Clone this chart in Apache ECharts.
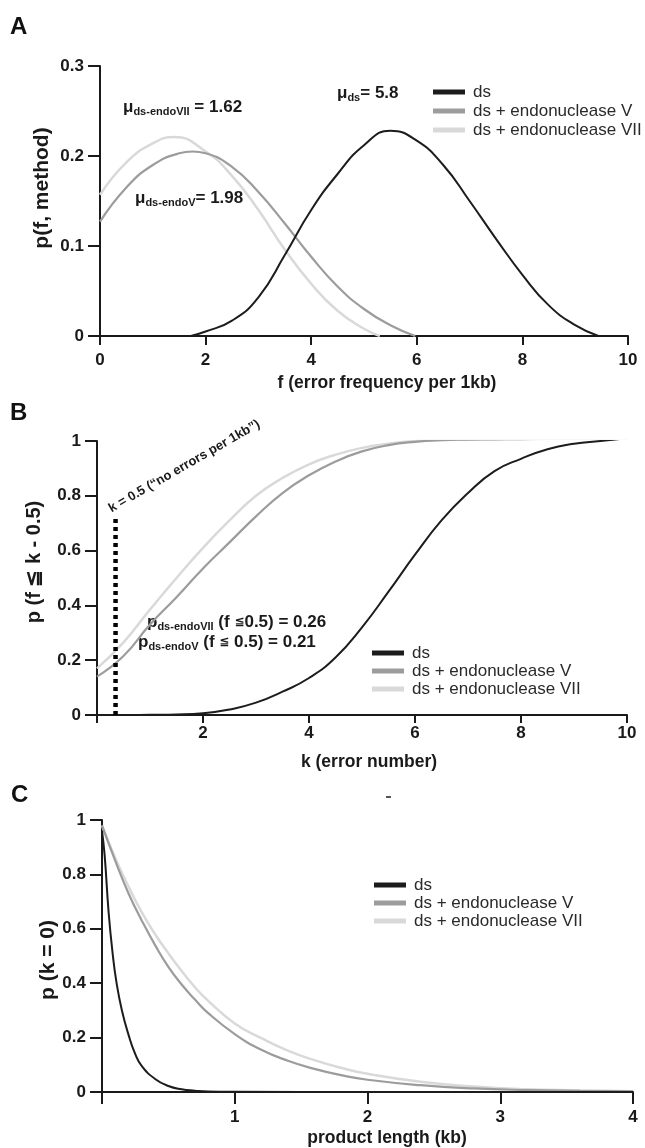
<!DOCTYPE html>
<html>
<head>
<meta charset="utf-8">
<script src="https://cdn.jsdelivr.net/npm/echarts@6/dist/echarts.min.js"></script>
<style>
  html, body { margin: 0; padding: 0; background: #fff; }
  #chart { width: 645px; height: 1148px; }
</style>
</head>
<body>
<div id="chart"></div>
<script>
// panel A: p(f, method) vs error frequency
var fA_ds = [1.72, 2.0, 2.5, 3.0, 3.5, 4.0, 4.5, 5.0, 5.5, 6.0, 6.5, 7.0, 7.5, 8.0, 8.5, 9.0, 9.44]
var pA_ds = [0, 0.005, 0.017, 0.043, 0.09, 0.14, 0.18, 0.212, 0.228, 0.217, 0.19, 0.15, 0.108, 0.068, 0.034, 0.012, 0]
var fA_endoV = [0, 0.5, 1.0, 1.5, 1.75, 2.0, 2.5, 3.0, 3.5, 4.0, 4.5, 5.0, 5.5, 5.97]
var pA_endoV = [0.127, 0.165, 0.19, 0.203, 0.205, 0.203, 0.188, 0.16, 0.125, 0.088, 0.055, 0.03, 0.012, 0]
var fA_endoVII = [0, 0.5, 1.0, 1.4, 2.0, 2.5, 3.0, 3.5, 4.0, 4.5, 5.0, 5.3]
var pA_endoVII = [0.157, 0.193, 0.214, 0.221, 0.205, 0.178, 0.14, 0.096, 0.058, 0.028, 0.008, 0]

// panel B: cumulative p(f <= k - 0.5)
var kB = [0, 0.5, 1, 1.5, 2, 2.5, 3, 3.5, 4, 4.5, 5, 5.5, 6, 6.5, 7, 7.5, 8, 8.5, 9, 9.5, 10]
var pB_ds = [0, 0, 0.001, 0.002, 0.006, 0.02, 0.045, 0.085, 0.135, 0.21, 0.32, 0.45, 0.585, 0.71, 0.81, 0.89, 0.935, 0.97, 0.99, 1.0, 1.01]
var pB_endoV = [0.14, 0.215, 0.33, 0.43, 0.535, 0.63, 0.725, 0.81, 0.875, 0.925, 0.962, 0.985, 0.997, 1.003, 1.005, 1.006, 1.007, 1.008, 1.008, 1.009, 1.01]
var pB_endoVII = [0.17, 0.265, 0.385, 0.5, 0.61, 0.71, 0.8, 0.865, 0.915, 0.95, 0.975, 0.99, 1.0, 1.004, 1.006, 1.007, 1.007, 1.008, 1.008, 1.009, 1.01]
var noErrK = [0.35, 0.35]
var noErrP = [0, 0.72]

// panel C: p(k = 0) vs product length
var lenC_ds = [0, 0.02, 0.05, 0.08, 0.11, 0.15, 0.2, 0.25, 0.3, 0.4, 0.5, 0.6, 0.7, 0.8, 1.0, 2.0, 3.0, 4.0]
var pC_ds = [0.96, 0.87, 0.66, 0.51, 0.4, 0.3, 0.21, 0.14, 0.095, 0.048, 0.022, 0.01, 0.005, 0.002, 0.001, 0, 0, 0]
var lenC = [0, 0.1, 0.2, 0.3, 0.4, 0.5, 0.6, 0.7, 0.8, 1.0, 1.2, 1.4, 1.6, 1.8, 2.0, 2.4, 2.8, 3.2, 3.6, 4.0]
var pC_endoV = [0.98, 0.85, 0.73, 0.63, 0.54, 0.46, 0.395, 0.34, 0.29, 0.213, 0.155, 0.115, 0.085, 0.062, 0.045, 0.025, 0.013, 0.007, 0.004, 0.002]
var pC_endoVII = [0.98, 0.86, 0.755, 0.66, 0.58, 0.51, 0.445, 0.385, 0.335, 0.252, 0.198, 0.152, 0.117, 0.089, 0.067, 0.038, 0.02, 0.01, 0.006, 0.003]

var names = ['ds', 'ds + endonuclease V', 'ds + endonuclease VII']
var colors = ['#1c1c1c', '#9c9c9c', '#d9d9d9']

var FONT = '"Liberation Sans", Arial, Helvetica, sans-serif'

function zip(xs, ys) {
  return xs.map(function(x, i) { return [x, ys[i]] })
}

function curve(name, idx, xs, ys, color, width) {
  return {
    name: name,
    type: 'line',
    xAxisIndex: idx,
    yAxisIndex: idx,
    data: zip(xs, ys),
    smooth: 0.5,
    showSymbol: false,
    itemStyle: { color: color },
    lineStyle: { color: color, width: width },
    z: 3
  }
}

function xAx(idx, max, interval, margin, tickLen, hideZero) {
  return {
    type: 'value',
    gridIndex: idx,
    min: 0,
    max: max,
    interval: interval,
    splitLine: { show: false },
    axisLine: { lineStyle: { color: '#1a1a1a', width: 2 } },
    axisTick: { length: tickLen, lineStyle: { color: '#1a1a1a', width: 2 } },
    axisLabel: {
      margin: margin,
      color: '#1a1a1a',
      fontSize: 17,
      fontWeight: 'bold',
      fontFamily: FONT,
      formatter: function(v) { return (hideZero && v === 0) ? '' : String(v) }
    }
  }
}

function yAx(idx, max, interval) {
  return {
    type: 'value',
    gridIndex: idx,
    min: 0,
    max: max,
    interval: interval,
    splitLine: { show: false },
    axisLine: { show: true, lineStyle: { color: '#1a1a1a', width: 2 } },
    axisTick: { show: true, length: 12, lineStyle: { color: '#1a1a1a', width: 2 } },
    axisLabel: {
      margin: 16,
      color: '#1a1a1a',
      fontSize: 17,
      fontWeight: 'bold',
      fontFamily: FONT
    }
  }
}

function legendAt(left, top, gap) {
  return {
    orient: 'vertical',
    left: left,
    top: top,
    data: names,
    icon: 'rect',
    itemWidth: 32,
    itemHeight: 5,
    itemGap: gap,
    selectedMode: false,
    textStyle: {
      color: '#2a2a2a',
      fontSize: 17,
      fontFamily: FONT,
      lineHeight: 18,
      padding: [0, 0, 0, 3]
    }
  }
}

function label(text, x, y, size, rot) {
  return {
    type: 'text',
    x: x,
    y: y,
    rotation: rot || 0,
    style: {
      text: text,
      fill: '#1a1a1a',
      font: 'bold ' + size + 'px ' + FONT,
      align: 'center',
      verticalAlign: 'middle'
    }
  }
}

var richStyles = {
  m: { fontSize: 17, fontWeight: 'bold', fontFamily: FONT, fill: '#1a1a1a', lineHeight: 20, verticalAlign: 'middle' },
  s: { fontSize: 11, fontWeight: 'bold', fontFamily: FONT, fill: '#1a1a1a', lineHeight: 12, verticalAlign: 'bottom' },
  le: { fontSize: 12, fontWeight: 'bold', fontFamily: '"DejaVu Sans"', fill: '#1a1a1a', lineHeight: 20, verticalAlign: 'middle' }
}

function richText(text, x, y) {
  return {
    type: 'text',
    x: x,
    y: y,
    style: { text: text, align: 'left', verticalAlign: 'middle', rich: richStyles }
  }
}

var chart = echarts.init(document.getElementById('chart'))

chart.setOption({
  animation: false,
  backgroundColor: '#fff',
  textStyle: { fontFamily: FONT },
  grid: [
    { left: 100, top: 66, width: 528, height: 270, outerBoundsMode: 'none' },
    { left: 97, top: 441, width: 530, height: 274, outerBoundsMode: 'none' },
    { left: 102, top: 820, width: 531, height: 272, outerBoundsMode: 'none' }
  ],
  xAxis: [
    xAx(0, 10, 2, 16, 9, false),
    xAx(1, 10, 2, 10, 8, true),
    xAx(2, 4, 1, 17, 12, true)
  ],
  yAxis: [
    yAx(0, 0.3, 0.1),
    yAx(1, 1, 0.2),
    yAx(2, 1, 0.2)
  ],
  legend: [
    legendAt(428, 78, 1),
    legendAt(367, 639, 0),
    legendAt(369, 871, 0)
  ],
  series: [
    curve(names[2], 0, fA_endoVII, pA_endoVII, colors[2], 2.5),
    curve(names[1], 0, fA_endoV, pA_endoV, colors[1], 2.2),
    curve(names[0], 0, fA_ds, pA_ds, colors[0], 2),
    curve(names[2], 1, kB, pB_endoVII, colors[2], 2.5),
    curve(names[1], 1, kB, pB_endoV, colors[1], 2.2),
    curve(names[0], 1, kB, pB_ds, colors[0], 2),
    {
      type: 'line',
      xAxisIndex: 1,
      yAxisIndex: 1,
      data: zip(noErrK, noErrP),
      showSymbol: false,
      lineStyle: { color: '#000', width: 4.5, type: [4, 4], cap: 'butt' },
      z: 4
    },
    curve(names[2], 2, lenC, pC_endoVII, colors[2], 2.5),
    curve(names[1], 2, lenC, pC_endoV, colors[1], 2.2),
    curve(names[0], 2, lenC_ds, pC_ds, colors[0], 2)
  ],
  graphic: [
    // panel letters
    { type: 'text', x: 10, y: 27, style: { text: 'A', font: 'bold 24px ' + FONT, fill: '#111', verticalAlign: 'middle' } },
    { type: 'text', x: 10, y: 413, style: { text: 'B', font: 'bold 24px ' + FONT, fill: '#111', verticalAlign: 'middle' } },
    { type: 'text', x: 11, y: 795, style: { text: 'C', font: 'bold 24px ' + FONT, fill: '#111', verticalAlign: 'middle' } },
    // axis titles
    label('f (error frequency per 1kb)', 387, 383, 17.5),
    label('k (error number)', 369, 762, 17.5),
    label('product length (kb)', 387, 1138, 17.5),
    label('p(f, method)', 42, 188, 21, Math.PI / 2),
    label('p (f \u2266 k - 0.5)', 34, 562, 20, Math.PI / 2),
    label('p (k = 0)', 48, 960, 21, Math.PI / 2),
    // mean annotations, panel A
    richText('{m|\u03bc}{s|ds-endoVII}{m| = 1.62}', 123, 107),
    richText('{m|\u03bc}{s|ds-endoV}{m|= 1.98}', 135, 198),
    richText('{m|\u03bc}{s|ds}{m|= 5.8}', 337, 93),
    // probability annotations, panel B
    richText('{m|p}{s|ds-endoVII}{m| (f }{le|\u2266}{m|0.5) = 0.26}', 147, 622),
    richText('{m|p}{s|ds-endoV}{m| (f }{le|\u2266}{m| 0.5) = 0.21}', 138, 642),
    // note above the dotted k = 0.5 marker
    {
      type: 'text', x: 113, y: 515, rotation: Math.PI / 6,
      style: {
        text: 'k = 0.5 (\u201cno errors per 1kb\u201d)',
        font: 'bold 13px ' + FONT,
        fill: '#1a1a1a',
        align: 'left',
        verticalAlign: 'bottom'
      }
    },
    // stray mark above panel C
    { type: 'rect', x: 386, y: 796, shape: { width: 5, height: 2 }, style: { fill: '#555' } }
  ]
})
</script>
</body>
</html>
